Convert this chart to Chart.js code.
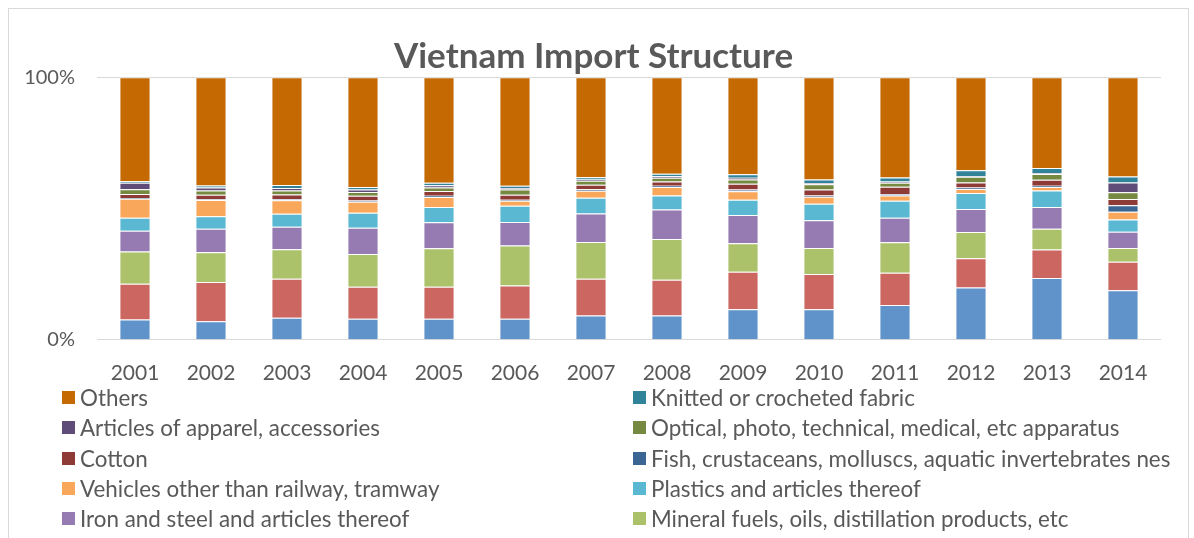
<!DOCTYPE html>
<html>
<head>
<meta charset="utf-8">
<script src="https://cdn.jsdelivr.net/npm/chart.js@4"></script>
<style>
  html, body { margin: 0; padding: 0; background: #fff; overflow: hidden; }
  #wrap { position: relative; width: 1194px; height: 538px; }
  #frame { position: absolute; left: 8px; top: 8px; width: 1179px; height: 560px; border: 1px solid #d9d9d9; }
  #myChart { position: absolute; left: 0; top: 0; }
  .leg { position: absolute; font-family: Lato, sans-serif; font-size: 22.4px; color: #595959; white-space: nowrap; line-height: 26px; }
  .leg span { position: absolute; left: -18px; top: 6px; width: 13px; height: 13px; }
</style>
</head>
<body>
<div id="wrap">
  <div id="frame"></div>
  <canvas id="myChart" width="1194" height="538"></canvas>
  <div id="legend"></div>
</div>
<script>
const years = ['2001','2002','2003','2004','2005','2006','2007','2008','2009','2010','2011','2012','2013','2014'];

const seriesNames = [
  'Electrical machinery and equipment',
  'Machinery, nuclear reactors, boilers, etc',
  'Mineral fuels, oils, distillation products, etc',
  'Iron and steel and articles thereof',
  'Plastics and articles thereof',
  'Vehicles other than railway, tramway',
  'Fish, crustaceans, molluscs, aquatic invertebrates nes',
  'Cotton',
  'Optical, photo, technical, medical, etc apparatus',
  'Articles of apparel, accessories',
  'Knitted or crocheted fabric',
  'Others'
];

const colores = ['#5f93c9','#cc6661','#abc26b','#957bb1','#5bb8d3','#f9a85b',
                 '#3b6592','#8e3b38','#758a40','#604c78','#31839a','#c56a03'];

// import share, percent of total
const electrical = [7.75, 7.0, 8.4, 8.0, 8.0, 8.0, 9.3, 9.3, 11.6, 11.6, 13.3, 19.9, 23.6, 18.9];
const machinery  = [13.6, 14.9, 14.9, 12.2, 12.2, 12.7, 14.0, 13.6, 14.3, 13.5, 12.2, 11.2, 10.8, 10.8];
const mineral    = [12.3, 11.3, 11.2, 12.4, 14.7, 15.2, 14.0, 15.5, 10.9, 9.9, 11.7, 10.0, 7.9, 5.2];
const iron       = [7.9, 8.9, 8.6, 10.0, 9.9, 8.9, 10.9, 11.3, 10.7, 10.5, 9.3, 8.8, 8.3, 6.2];
const plastics   = [5.0, 4.8, 5.0, 5.7, 5.8, 6.2, 6.0, 5.3, 5.8, 6.3, 6.5, 6.1, 6.3, 4.7];
const vehicles   = [7.2, 6.1, 5.1, 4.2, 3.8, 1.9, 2.7, 3.3, 3.3, 2.7, 2.0, 1.5, 1.4, 2.9];
const fish       = [0.3, 0.3, 0.4, 0.5, 0.5, 0.4, 0.6, 0.4, 0.6, 0.5, 0.5, 0.6, 0.4, 2.5];
const cotton     = [1.5, 1.7, 1.8, 1.8, 1.8, 1.9, 1.7, 1.7, 2.2, 2.2, 2.8, 1.9, 2.3, 2.4];
const optical    = [1.8, 1.6, 1.5, 1.4, 1.3, 2.0, 1.5, 1.4, 1.7, 2.0, 1.5, 2.2, 2.2, 2.5];
const apparel    = [2.5, 1.2, 1.0, 1.0, 0.9, 0.5, 0.5, 0.6, 0.6, 0.5, 0.5, 0.2, 0.3, 3.8];
const knitted    = [0.6, 0.7, 1.1, 0.9, 0.9, 0.9, 0.8, 0.9, 1.4, 1.4, 1.5, 2.2, 2.0, 2.2];
const others     = [39.6, 41.1, 41.1, 41.8, 40.2, 41.3, 38.2, 36.8, 36.9, 38.9, 38.2, 35.5, 34.6, 37.8];

const yTicks = [0, 100];

const series = [electrical, machinery, mineral, iron, plastics, vehicles, fish, cotton, optical, apparel, knitted, others];

// 100% stacked: each year scaled to its total
const totales = years.map((y, j) => series.reduce((s, arr) => s + arr[j], 0));

const datasets = series.map((arr, i) => ({
  label: seriesNames[i],
  data: arr.map((v, j) => v / totales[j] * 100),
  backgroundColor: colores[i],
  borderColor: 'rgba(255,255,255,0.35)',
  borderWidth: 1
}));

const ctx = document.getElementById('myChart');
const myChart = new Chart(ctx, {
  type: 'bar',
  data: { labels: years, datasets: datasets },
  options: {
    responsive: false,
    animation: false,
    devicePixelRatio: 1,
    layout: { padding: { left: 26, right: 33, top: 0, bottom: 131 } },
    datasets: { bar: { barPercentage: 0.41, categoryPercentage: 1 } },
    plugins: {
      legend: { display: false },
      tooltip: { enabled: false },
      title: {
        display: true,
        text: 'Vietnam Import Structure',
        color: '#595959',
        font: { family: 'Lato', size: 35, weight: 'bold', lineHeight: 1.15 },
        padding: { top: 37, bottom: 0 }
      }
    },
    scales: {
      x: {
        stacked: true,
        grid: { display: false, drawTicks: false },
        border: { display: false },
        ticks: { color: '#595959', font: { family: 'Lato', size: 21 }, padding: 21 }
      },
      y: {
        stacked: true,
        min: 0,
        max: 100,
        afterBuildTicks: (axis) => { axis.ticks = yTicks.map(v => ({ value: v })); },
        afterFit: (axis) => { axis.width = 71; },
        grid: { color: '#d9d9d9', lineWidth: 1, drawTicks: false },
        border: { display: false },
        ticks: {
          color: '#595959',
          font: { family: 'Lato', size: 20 },
          padding: 22,
          callback: (v) => v + '%'
        }
      }
    }
  }
});

// legend in two columns, top of stack first
const legend = document.getElementById('legend');
const orden = seriesNames.map((n, i) => i).reverse();
orden.forEach((idx, k) => {
  const col = k % 2, row = Math.floor(k / 2);
  const d = document.createElement('div');
  d.className = 'leg';
  d.style.left = (col === 0 ? 80 : 651) + 'px';
  d.style.top = (385 + row * 30.3) + 'px';
  d.innerHTML = '<span style="background:' + colores[idx] + '"></span>' + seriesNames[idx];
  legend.appendChild(d);
});
</script>
</body>
</html>
